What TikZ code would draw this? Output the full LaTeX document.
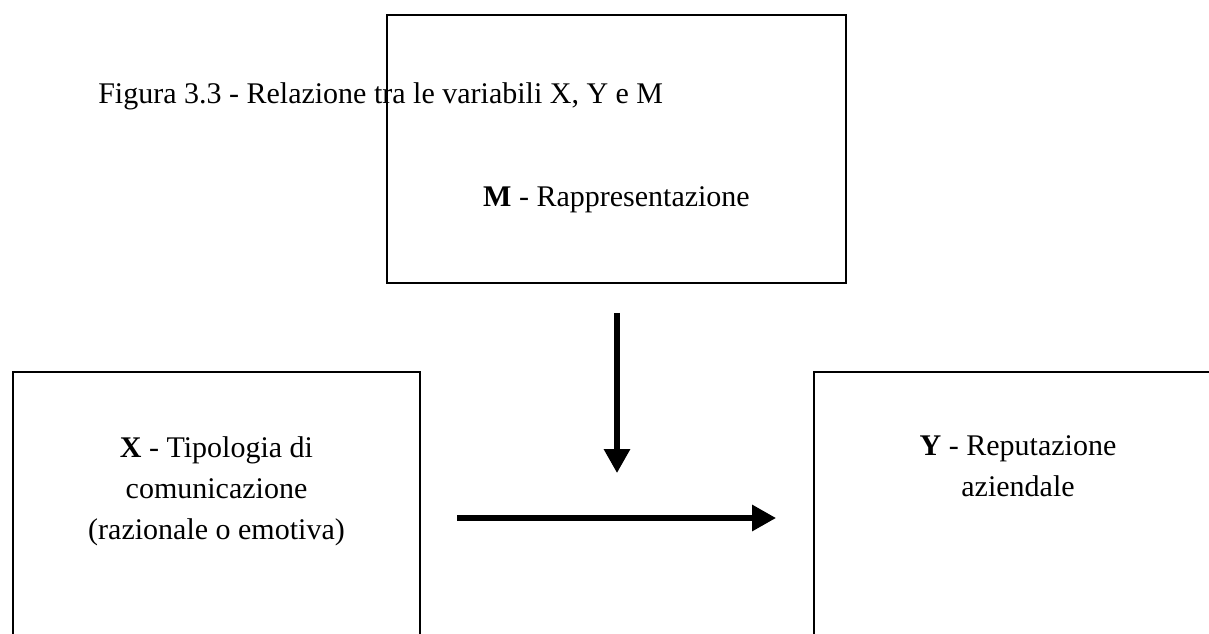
\documentclass[tikz,border=0pt]{standalone}
\usepackage{fontspec}
\setmainfont{Liberation Serif}
\usetikzlibrary{arrows.meta}
\tikzset{
  box/.style={draw,thick,line width=1.8pt,rectangle,inner sep=0pt},
  boxtext/.style={align=center,inner sep=0pt,font=\fontsize{22.5}{30.8}\selectfont},
  bigarrow/.style={line width=4pt,-{Triangle[length=18pt,width=19pt]}}
}
\begin{document}
\begin{tikzpicture}[x=0.75pt,y=-0.75pt]
\useasboundingbox (0,0) rectangle (1209,634);
\clip (0,0) rectangle (1209,634);
\node [boxtext,anchor=base west] (caption) at (98,104) {Figura 3.3 - Relazione tra le variabili X, Y e M};
\node [box,minimum width=344.25pt,minimum height=201pt] (mbox) at (616.5,149) {};
\node [box,minimum width=305.25pt,minimum height=291pt] (xbox) at (216.5,566) {};
\node [box,minimum width=306pt,minimum height=291pt] (ybox) at (1018,566) {};
\node [boxtext] (mtext) at (616.5,200) {\textbf{M} - Rappresentazione};
\node [boxtext] (xtext) at (216.5,491) {\textbf{X} - Tipologia di\\comunicazione\\(razionale o emotiva)};
\node [boxtext] (ytext) at (1018,466) {\textbf{Y} - Reputazione\\aziendale};
\coordinate (mfrom) at (617,313);
\coordinate (mto) at (617,473);
\coordinate (xfrom) at (457,518);
\coordinate (yto) at (776,518);
\draw [bigarrow] (mfrom) -- (mto);
\draw [bigarrow] (xfrom) -- (yto);
\end{tikzpicture}
\end{document}
